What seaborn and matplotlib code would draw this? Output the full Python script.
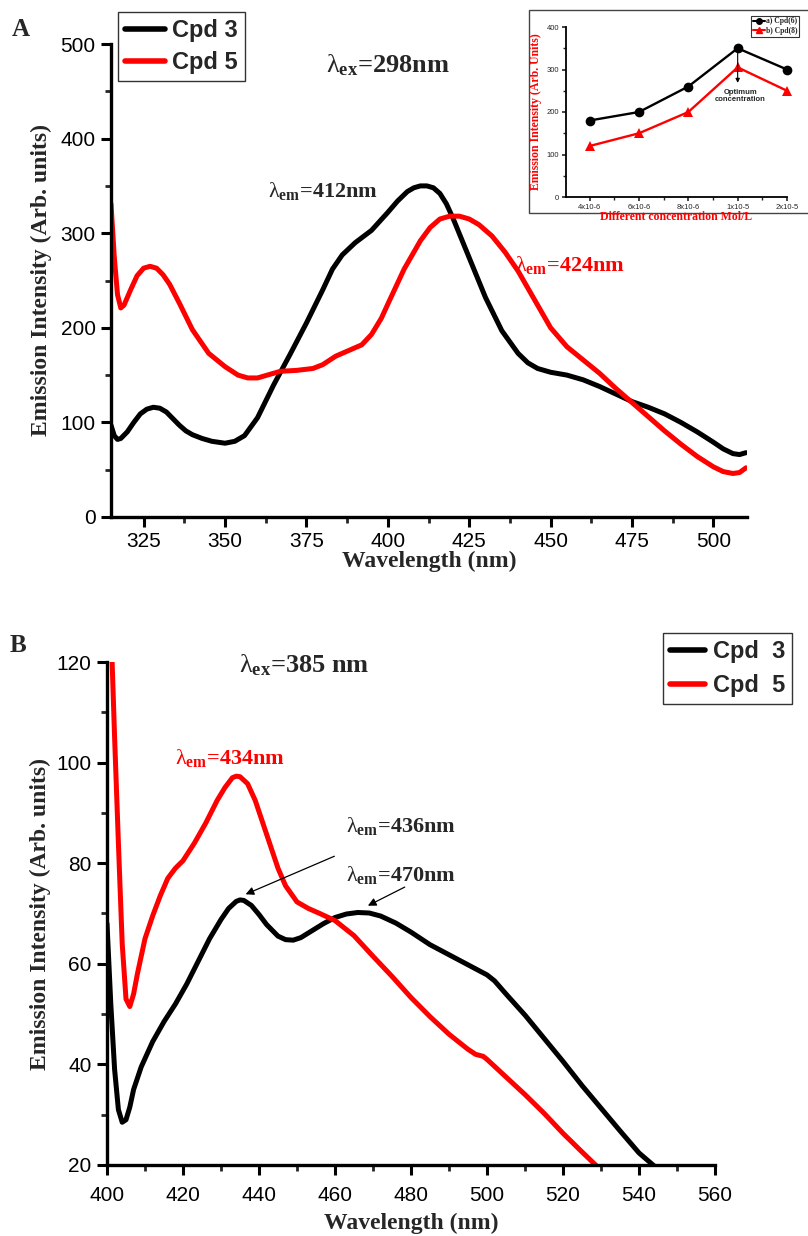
import matplotlib
matplotlib.use("Agg")
import matplotlib.pyplot as plt
from matplotlib.patches import Rectangle
from matplotlib.ticker import MultipleLocator
import pandas as pd
import seaborn as sns

# ---- panel A: excitation 298 nm ----
wl_a3 = [315, 316, 317, 318, 320, 322, 324, 326, 328, 330, 332, 334, 336, 338, 340, 343,
         346, 350, 353, 356, 360, 365, 370, 375, 380, 383, 386, 390, 395, 400, 403, 406,
         408, 410, 412, 414, 416, 418, 420, 425, 430, 435, 440, 443, 446, 450, 455,
         460, 465, 470, 475, 480, 485, 490, 495, 500, 503, 506, 508, 510]
cpd3_a = [97, 86, 82, 83, 90, 100, 109, 114, 116, 115, 111, 104, 97, 91, 87, 83,
          80, 78, 80, 86, 105, 140, 172, 205, 240, 262, 277, 290, 303, 322, 334, 344,
          348, 350, 350, 348, 342, 331, 316, 274, 232, 197, 173, 163, 157, 153, 150,
          145, 138, 130, 122, 116, 109, 100, 90, 79, 72, 67, 66, 68]
wl_a5 = [315, 316, 317, 318, 319, 321, 323, 325, 327, 329, 331, 333, 336, 340, 345, 350,
         354, 357, 360, 363, 367, 372, 377, 380, 384, 388, 392, 395, 398, 400, 405, 410,
         413, 416, 419, 422, 425, 428, 432, 436, 440, 445, 450, 455, 460, 465, 470,
         475, 480, 485, 490, 495, 500, 503, 506, 508, 510]
cpd5_a = [331, 275, 235, 221, 224, 240, 255, 263, 265, 263, 256, 246, 226, 198, 173, 159,
          150, 147, 147, 150, 154, 155, 157, 161, 170, 176, 182, 193, 210, 225, 262, 292,
          306, 315, 318, 318, 315, 309, 297, 280, 260, 230, 200, 180, 166, 152, 136,
          121, 106, 91, 77, 64, 53, 48, 46, 47, 52]

# ---- panel B: excitation 385 nm ----
wl_b3 = [400, 401, 402, 403, 404, 405, 406, 407, 409, 412, 415, 418, 421, 424, 427, 430,
         432, 434, 435, 436, 438, 440, 442, 445, 447, 449, 451, 454, 457, 460, 463, 466,
         469, 472, 476, 480, 485, 490, 495, 498, 500, 502, 505, 510, 515,
         520, 525, 530, 535, 540, 544]
cpd3_b = [68, 52, 39, 31, 28.5, 29, 31.5, 35, 39.5, 44.5, 48.5, 52, 56, 60.5, 65, 68.8,
          71, 72.4, 72.7, 72.6, 71.6, 69.8, 67.8, 65.5, 64.8, 64.7, 65.2, 66.6, 68, 69.2, 69.9, 70.2,
          70.1, 69.5, 68.1, 66.3, 63.8, 61.8, 59.8, 58.6, 57.8, 56.6, 54, 49.8, 45.2,
          40.6, 35.8, 31.3, 26.8, 22.4, 19.8]
wl_b5 = [401, 402, 403, 404, 405, 406, 407, 408, 410, 412, 414, 416, 418, 420, 423, 426,
         429, 431, 433, 434, 435, 437, 439, 441, 443, 445, 447, 450, 453, 456, 460, 465,
         470, 475, 480, 485, 490, 495, 497, 499, 500, 505, 510, 515, 520, 525, 529]
cpd5_b = [128, 105, 84, 64, 53, 51.5, 54, 58, 65, 69.5, 73.5, 77, 79, 80.5, 84, 88,
          92.5, 95, 97, 97.3, 97.2, 95.8, 92.5, 88, 83.5, 79, 75.5, 72.3, 71, 70, 68.6, 65.6,
          61.5, 57.5, 53.3, 49.5, 46, 43, 42, 41.6, 41, 37.5, 34, 30.3, 26.3, 22.6, 19.7]

# ---- inset: concentration study ----
conc_labels = ["4x10-6", "6x10-6", "8x10-6", "1x10-5", "2x10-5"]
cpd6_int = [180, 200, 260, 350, 300]
cpd8_int = [120, 150, 200, 305, 250]

sns.set_theme(style="ticks")
plt.rcParams["font.family"] = ["Liberation Sans", "DejaVu Sans"]
plt.rcParams["mathtext.fontset"] = "custom"
plt.rcParams["mathtext.rm"] = "Liberation Serif"
plt.rcParams["mathtext.it"] = "Liberation Serif:italic"
plt.rcParams["mathtext.bf"] = "Liberation Serif:bold"
SERIF = ["Liberation Serif", "DejaVu Serif"]
LAM_EX = r"$\mathrm{\lambda}_{\mathbf{ex}}$"
LAM_EM = r"$\mathrm{\lambda}_{\mathbf{em}}$"

fig = plt.figure(figsize=(8.08, 12.36), dpi=100)
W, H = 808, 1236


def px_axes(l, t, r, b):
    return fig.add_axes([l / W, 1 - b / H, (r - l) / W, (b - t) / H])


def style_axes(ax):
    for s in ["top", "right"]:
        ax.spines[s].set_visible(False)
    for s in ["left", "bottom"]:
        ax.spines[s].set_linewidth(2.4)
        ax.spines[s].set_color("black")
    ax.tick_params(which="major", direction="out", length=7, width=2.2,
                   labelsize=15, colors="black", pad=4)
    ax.tick_params(which="minor", direction="out", length=4.5, width=2.0)
    ax.grid(False)


def curve_df(wl, vals, name):
    return pd.DataFrame({"wl": wl, "I": vals, "cpd": name})


pal = {"Cpd 3": "black", "Cpd 5": "#ff0000"}
line_kw = dict(lw=3.6, solid_joinstyle="round", solid_capstyle="round", sort=False, legend=False)

# ---------------- panel A ----------------
axA = px_axes(111, 44, 747, 517)
dfA = pd.concat([curve_df(wl_a3, cpd3_a, "Cpd 3"), curve_df(wl_a5, cpd5_a, "Cpd 5")])
sns.lineplot(data=dfA, x="wl", y="I", hue="cpd", palette=pal, ax=axA, **line_kw)
axA.set_xlim(315, 510.3)
axA.set_ylim(0, 500)
axA.xaxis.set_major_locator(MultipleLocator(25))
axA.xaxis.set_minor_locator(MultipleLocator(12.5))
axA.yaxis.set_major_locator(MultipleLocator(100))
axA.yaxis.set_minor_locator(MultipleLocator(50))
style_axes(axA)
axA.set_xlabel("Wavelength (nm)", fontsize=17, fontweight="bold", family=SERIF, labelpad=0)
axA.set_ylabel("Emission Intensity (Arb. units)", fontsize=17, fontweight="bold",
               family=SERIF, labelpad=6)
hA = [plt.Line2D([], [], color="black", lw=4), plt.Line2D([], [], color="#ff0000", lw=4)]
legA = axA.legend(hA, ["Cpd 3", "Cpd 5"], loc="upper left", bbox_to_anchor=(-0.008, 1.093),
                  frameon=True, fancybox=False, edgecolor="black", handlelength=1.7,
                  handletextpad=0.3, borderpad=0.3, labelspacing=0.4,
                  prop={"family": "Liberation Sans", "weight": "bold", "size": 17})
legA.get_frame().set_linewidth(1.0)
axA.text(400, 478, LAM_EX + "=298nm", fontsize=19, fontweight="bold",
         family=SERIF, ha="center", va="center")
axA.text(397, 345, LAM_EM + "=412nm", fontsize=16, fontweight="bold",
         family=SERIF, ha="right", va="center")
axA.text(439, 266, LAM_EM + "=424nm", fontsize=16, fontweight="bold",
         family=SERIF, ha="left", va="center", color="#ff0000")
fig.text(12 / W, 1 - 30 / H, "A", fontsize=18, fontweight="bold", family=SERIF, va="center")

# ---------------- inset ----------------
fig.patches.append(Rectangle((529 / W, 1 - 213 / H), 290 / W, 203 / H,
                             transform=fig.transFigure, fill=True, facecolor="white",
                             edgecolor="#444444", lw=1.0, zorder=3))
axI = px_axes(566, 27, 787, 197)
axI.set_zorder(4)
dfI = pd.DataFrame({"pos": list(range(5)) * 2,
                    "I": cpd6_int + cpd8_int,
                    "cpd": ["a) Cpd(6)"] * 5 + ["b) Cpd(8)"] * 5})
sns.lineplot(data=dfI, x="pos", y="I", hue="cpd", style="cpd",
             palette={"a) Cpd(6)": "black", "b) Cpd(8)": "#ff0000"},
             markers={"a) Cpd(6)": "o", "b) Cpd(8)": "^"}, dashes=False,
             markersize=7, markeredgewidth=0, lw=1.7, ax=axI, legend=False, clip_on=False)
axI.set_xlim(-0.48, 4)
axI.set_ylim(0, 400)
axI.set_xticks(range(5), conc_labels)
axI.xaxis.set_minor_locator(MultipleLocator(0.5))
axI.yaxis.set_major_locator(MultipleLocator(100))
axI.yaxis.set_minor_locator(MultipleLocator(50))
for s in ["top", "right"]:
    axI.spines[s].set_visible(False)
for s in ["left", "bottom"]:
    axI.spines[s].set_linewidth(1.3)
    axI.spines[s].set_color("black")
axI.tick_params(which="major", direction="out", length=3, width=1.2, labelsize=5.5, pad=2)
axI.tick_params(which="minor", direction="out", length=2, width=1.0)
axI.set_xlabel("Different concentration Mol/L", fontsize=8.5, fontweight="bold",
               family=SERIF, color="#ff0000", labelpad=0)
axI.set_ylabel("Emission Intensity (Arb. Units)", fontsize=8.5, fontweight="bold",
               family=SERIF, color="#ff0000", labelpad=3)
axI.annotate("", xy=(3, 262), xytext=(3, 350),
             arrowprops=dict(arrowstyle="-|>", color="black", lw=0.8, mutation_scale=6))
axI.text(3.06, 238, "Optimum\nconcentration", fontsize=5.5, fontweight="bold",
         ha="center", va="center", linespacing=1.0)
hI = [plt.Line2D([], [], color="black", marker="o", markersize=4, lw=1.5),
      plt.Line2D([], [], color="#ff0000", marker="^", markersize=4, lw=1.5)]
legI = axI.legend(hI, ["a) Cpd(6)", "b) Cpd(8)"], loc="upper left",
                  bbox_to_anchor=(0.82, 1.09), frameon=True, fancybox=False,
                  edgecolor="black", handlelength=1.6, handletextpad=0.1, borderpad=0.25,
                  labelspacing=0.2, prop={"family": SERIF, "weight": "bold", "size": 5.5})
legI.get_frame().set_linewidth(0.8)

# ---------------- panel B ----------------
axB = px_axes(107, 662, 715, 1165)
dfB = pd.concat([curve_df(wl_b3, cpd3_b, "Cpd 3"), curve_df(wl_b5, cpd5_b, "Cpd 5")])
sns.lineplot(data=dfB, x="wl", y="I", hue="cpd", palette=pal, ax=axB, **line_kw)
axB.set_xlim(400, 560)
axB.set_ylim(20, 120)
axB.xaxis.set_major_locator(MultipleLocator(20))
axB.xaxis.set_minor_locator(MultipleLocator(10))
axB.yaxis.set_major_locator(MultipleLocator(20))
axB.yaxis.set_minor_locator(MultipleLocator(10))
style_axes(axB)
axB.tick_params(axis="x", which="major", pad=8)
axB.set_xlabel("Wavelength (nm)", fontsize=17, fontweight="bold", family=SERIF, labelpad=6)
axB.set_ylabel("Emission Intensity (Arb. units)", fontsize=17, fontweight="bold",
               family=SERIF, labelpad=4)
legB = axB.legend(hA, ["Cpd  3", "Cpd  5"], loc="upper right", bbox_to_anchor=(1.146, 1.081),
                  frameon=True, fancybox=False, edgecolor="black", handlelength=1.5,
                  handletextpad=0.3, borderpad=0.3, labelspacing=0.45,
                  prop={"family": "Liberation Sans", "weight": "bold", "size": 17})
legB.get_frame().set_linewidth(1.0)
axB.text(452, 119.3, LAM_EX + "=385 nm", fontsize=19, fontweight="bold",
         family=SERIF, ha="center", va="center")
axB.text(418, 101, LAM_EM + "=434nm", fontsize=16, fontweight="bold",
         family=SERIF, ha="left", va="center", color="#ff0000")
axB.text(463, 87.4, LAM_EM + "=436nm", fontsize=16, fontweight="bold",
         family=SERIF, ha="left", va="center")
axB.text(463, 77.6, LAM_EM + "=470nm", fontsize=16, fontweight="bold",
         family=SERIF, ha="left", va="center")
axB.annotate("", xy=(435.8, 73.6), xytext=(460.5, 81.6),
             arrowprops=dict(arrowstyle="-|>", color="black", lw=0.9, mutation_scale=12))
axB.annotate("", xy=(468, 71.3), xytext=(479, 75.5),
             arrowprops=dict(arrowstyle="-|>", color="black", lw=0.9, mutation_scale=12))
fig.text(10 / W, 1 - 645 / H, "B", fontsize=18, fontweight="bold", family=SERIF, va="center")

fig.savefig("out.png", dpi=100)
